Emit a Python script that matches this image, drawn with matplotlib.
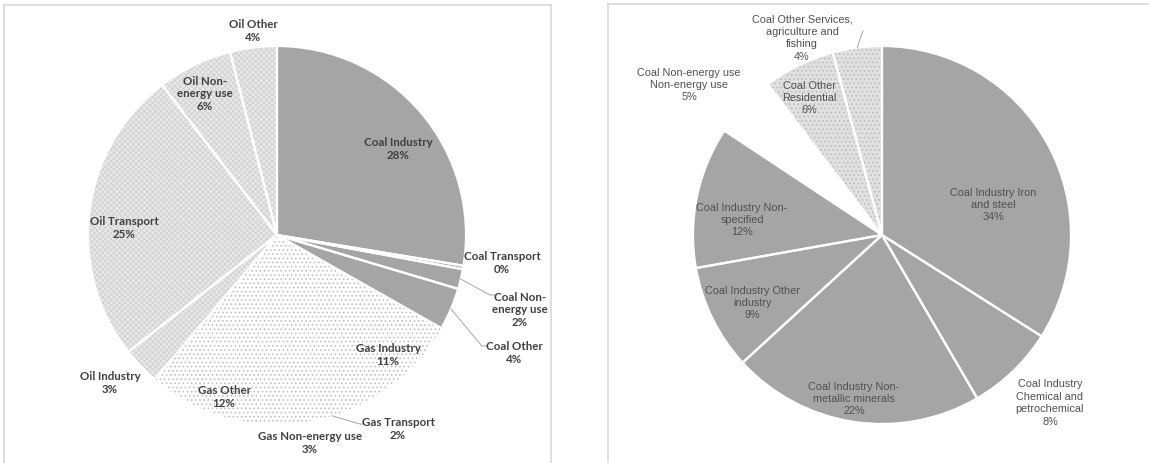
import matplotlib.pyplot as plt
import numpy as np
from matplotlib.lines import Line2D

# left pie: final consumption by fuel and sector
left_labels = ['Coal Industry', 'Coal Transport', 'Coal Non-\nenergy use', 'Coal Other',
               'Gas Industry', 'Gas Transport', 'Gas Non-energy use', 'Gas Other',
               'Oil Industry', 'Oil Transport', 'Oil Non-\nenergy use', 'Oil Other']
left_values = [27.6, 0.3, 1.7, 3.6, 11.2, 1.8, 2.8, 12.2, 3.2, 25.2, 6.4, 4.0]
left_fuel = ['coal'] * 4 + ['gas'] * 4 + ['oil'] * 4

# right pie: coal breakdown
right_labels = ['Coal Industry Iron\nand steel', 'Coal Industry\nChemical and\npetrochemical',
                'Coal Industry Non-\nmetallic minerals', 'Coal Industry Other\nindustry',
                'Coal Industry Non-\nspecified', 'Coal Non-energy use\nNon-energy use',
                'Coal Other\nResidential', 'Coal Other Services,\nagriculture and\nfishing']
right_values = [34.0, 7.6, 21.6, 9.0, 12.1, 5.4, 6.1, 4.2]
right_kind = ['industry'] * 5 + ['nonenergy'] + ['other'] * 2

# layout (pixels of the 1149x464 picture)
W, H, DPI = 1149, 464, 100
R = 189
left_center = (277, 236)
right_center = (882, 236)
left_text_pos = [(398, 149), (502, 263), (520, 310), (514, 353), (388, 355), (398, 429),
                 (310, 443), (224, 397), (110, 383), (124, 228), (205, 94), (253, 31)]
left_leaders = {2: [(490, 296), (496, 296)], 3: [(482, 347), (487, 347)],
                5: [(360, 425), (364, 425)]}
right_text_pos = [(993, 205), (1050, 403), (854, 399), (752, 303), (742, 220),
                  (689, 85), (809, 98), (802, 38)]
right_leaders = {7: [(863, 32)]}

styles = {
    'coal': dict(face='#a5a5a5', hatch=None, hcol=None, sep=True),
    'gas': dict(face='white', hatch='....', hcol='#bababa', sep=False),
    'oil': dict(face='#e8e8e8', hatch='xxxxxx', hcol='#d0d0d0', sep=True),
    'industry': dict(face='#a5a5a5', hatch=None, hcol=None, sep=True),
    'nonenergy': dict(face='white', hatch=None, hcol=None, sep=False),
    'other': dict(face='#e0e0e0', hatch='....', hcol='#b8b8b8', sep=True),
}

plt.rcParams['hatch.linewidth'] = 0.6
fig = plt.figure(figsize=(W / DPI, H / DPI), dpi=DPI)


def to_data(center, p):
    return (p[0] - center[0]) / R, (center[1] - p[1]) / R


def draw_pie(center, values, kinds, labels, text_pos, leaders, font):
    cx, cy = center
    ax = fig.add_axes([(cx - R) / W, (H - cy - R) / H, 2 * R / W, 2 * R / H])
    faces = [styles[k]['face'] for k in kinds]
    ax.pie(values, colors=faces, startangle=90, counterclock=False, radius=1,
           wedgeprops=dict(edgecolor='none', linewidth=0))
    wedges, _ = ax.pie(values, colors=['none'] * len(values), startangle=90,
                       counterclock=False, radius=1)
    for w, k in zip(wedges, kinds):
        st = styles[k]
        if st['hatch']:
            w.set_hatch(st['hatch'])
            w.set_edgecolor(st['hcol'])
            w.set_linewidth(0)
        else:
            w.set_visible(False)
    seps, _ = ax.pie(values, colors=['none'] * len(values), startangle=90,
                     counterclock=False, radius=1,
                     wedgeprops=dict(edgecolor='white', linewidth=1.6, fill=False))
    for w, k in zip(seps, kinds):
        w.set_visible(styles[k]['sep'])

    total = sum(values)
    cum = np.cumsum([0] + list(values))
    for i, (lab, v) in enumerate(zip(labels, values)):
        x, y = to_data(center, text_pos[i])
        ax.text(x, y, f'{lab}\n{round(v / total * 100)}%', ha='center', va='center',
                **font)
        if i in leaders:
            ang = np.deg2rad(90 - 360 * (cum[i] + v / 2) / total)
            pts = [(np.cos(ang), np.sin(ang))] + [to_data(center, p) for p in leaders[i]]
            xs, ys = zip(*pts)
            ax.plot(xs, ys, color='#a6a6a6', lw=0.7, clip_on=False)
    ax.set_xlim(-1, 1)
    ax.set_ylim(-1, 1)
    ax.set_aspect('auto')
    ax.axis('off')


draw_pie(left_center, left_values, left_fuel, left_labels, left_text_pos, left_leaders,
         dict(family=['Lato', 'DejaVu Sans'], fontweight='bold',
              fontsize=8.3, color='#404040', linespacing=1.2))
draw_pie(right_center, right_values, right_kind, right_labels, right_text_pos, right_leaders,
         dict(family=['Liberation Sans'], fontsize=7.8, color='#505050', linespacing=1.3))

# chart area borders
border = dict(color='#d9d9d9', lw=1.2, transform=fig.transFigure)
for (x0, y0), (x1, y1) in [((4, 6), (4, 464)), ((4, 6), (551, 6)), ((551, 6), (551, 464)),
                           ((608, 5), (608, 464)), ((608, 5), (1149, 5))]:
    fig.add_artist(Line2D([x0 / W, x1 / W], [1 - y0 / H, 1 - y1 / H], **border))

fig.savefig('out.png', dpi=DPI)
